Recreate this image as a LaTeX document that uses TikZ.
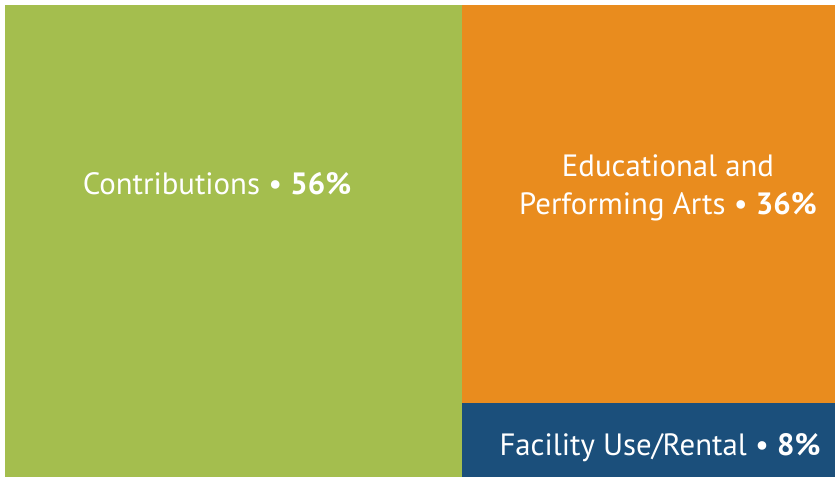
\documentclass[tikz,border=0pt]{standalone}
\usepackage{fontspec}
\setmainfont{PT Sans}
\definecolor{contribgreen}{HTML}{A4BE4E}
\definecolor{artsorange}{HTML}{E98C1E}
\definecolor{rentalblue}{HTML}{1B4F7B}
\begin{document}
\begin{tikzpicture}[x=0.5pt,y=0.5pt,
	lbl/.style={text=white,anchor=base,inner sep=0pt,font=\fontsize{15.4}{19}\selectfont}]
	\useasboundingbox (0,0) rectangle (836,477);
	\fill[white] (0,0) rectangle (836,477);
	% the three shares
	\fill[contribgreen] (5,0) rectangle (462,472);
	\fill[artsorange] (462,74) rectangle (835,472);
	\fill[rentalblue] (462,0) rectangle (835,74);
	% labels
	\node[lbl] (contrib) at (217,282) {Contributions \textbullet{} \textbf{56\%}};
	\node[lbl] (edu) at (668,300) {Educational and};
	\node[lbl] (arts) at (668,262) {Performing Arts \textbullet{} \textbf{36\%}};
	\node[lbl] (rental) at (660,21) {Facility Use/Rental \textbullet{} \textbf{8\%}};
\end{tikzpicture}
\end{document}
